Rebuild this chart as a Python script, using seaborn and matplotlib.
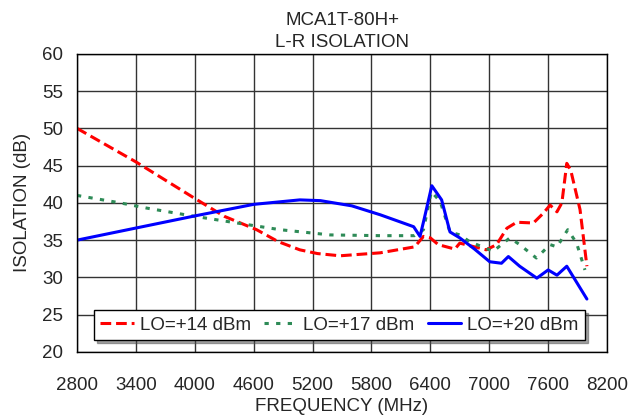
import matplotlib
matplotlib.use("Agg")
import matplotlib.pyplot as plt
import seaborn as sns

# LO = +14 dBm
freq_14 = [2800, 3400, 4000, 4300, 4630, 4850, 5070, 5250, 5480, 5890, 6240, 6330, 6400,
           6480, 6650, 6700, 6970, 7075, 7180, 7280, 7450, 7550, 7620, 7690, 7740, 7790,
           7830, 7925, 7995]
iso_14 = [50, 45.5, 40.6, 38.2, 36.4, 34.8, 33.7, 33.2, 32.9, 33.3, 34.1, 35.5, 35.3,
          34.4, 33.8, 34.6, 33.7, 34.4, 36.6, 37.4, 37.3, 38.6, 39.7, 38.8, 40.0, 45.3,
          44.4, 39.1, 31.5]

# LO = +17 dBm
freq_17 = [2800, 3240, 3510, 3950, 4430, 4870, 5380, 5890, 6240, 6330, 6410, 6500, 6600,
           6700, 6800, 7040, 7210, 7310, 7480, 7620, 7690, 7800, 7890, 7975]
iso_17 = [41, 40, 39.3, 38.3, 37.3, 36.4, 35.7, 35.6, 35.6, 36.4, 41.5, 40.2, 36.1,
          35.7, 34.8, 33.5, 35.3, 34.4, 32.6, 34.4, 34.1, 36.4, 34.6, 31]

# LO = +20 dBm
freq_20 = [2800, 4020, 4600, 5070, 5280, 5600, 5890, 6230, 6295, 6340, 6415, 6515, 6600,
           6700, 6850, 7005, 7125, 7195, 7310, 7485, 7600, 7690, 7790, 7995]
iso_20 = [35, 38.3, 39.8, 40.4, 40.3, 39.6, 38.4, 36.8, 35.5, 38, 42.3, 40.4, 36.1,
          35.3, 33.8, 32.1, 31.9, 32.8, 31.5, 29.9, 31, 30.3, 31.5, 27.1]

sns.set_style("white")
plt.rcParams['font.family'] = ['Liberation Sans', 'DejaVu Sans']
FS = 13.5

fig = plt.figure(figsize=(6.31, 4.17), dpi=100)
ax = fig.add_axes([0.122, 0.156, 0.840, 0.715])

sns.lineplot(x=freq_14, y=iso_14, color='#ff0000', linewidth=2.2, ax=ax, label='LO=+14 dBm')
ax.lines[-1].set_dashes((3.5, 1.6))
sns.lineplot(x=freq_17, y=iso_17, color='#2e8b57', linewidth=2.2, ax=ax, label='LO=+17 dBm')
ax.lines[-1].set_dashes((1.4, 2.4))
sns.lineplot(x=freq_20, y=iso_20, color='#0000ff', linewidth=2.2, ax=ax, label='LO=+20 dBm')

ax.set_xlim(2800, 8200)
ax.set_ylim(20, 60)
ax.set_xticks(range(2800, 8201, 600))
ax.set_yticks(range(20, 61, 5))
ax.grid(True, color='#333333', linewidth=1)
for s in ax.spines.values():
    s.set_color('black')
    s.set_linewidth(1)
ax.tick_params(axis='x', direction='out', length=5, color='black', labelsize=FS, pad=13)
ax.tick_params(axis='y', length=0, labelsize=FS, pad=10)
ax.set_xlabel('FREQUENCY (MHz)', fontsize=FS, labelpad=3)
ax.set_ylabel('ISOLATION (dB)', fontsize=FS, labelpad=8)
ax.set_title('MCA1T-80H+\nL-R ISOLATION', fontsize=FS, linespacing=1.35, pad=5)

leg = ax.legend(loc='lower center', bbox_to_anchor=(0.495, 0.02), ncol=3, fontsize=FS,
                frameon=True, fancybox=False, shadow=True, framealpha=1,
                edgecolor='black', handlelength=1.8, handletextpad=0.3,
                columnspacing=0.7, borderpad=0.35, borderaxespad=0.3)
leg.get_frame().set_linewidth(1)

plt.savefig('out.png', dpi=100)
plt.close()
